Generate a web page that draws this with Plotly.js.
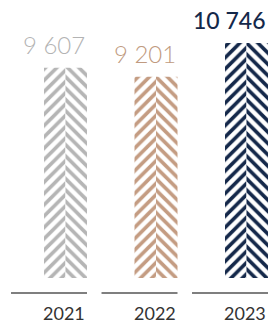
<!DOCTYPE html>
<html>
<head>
<meta charset="utf-8">
<script src="https://cdn.plot.ly/plotly-3.0.1.min.js"></script>
<style>html,body{margin:0;padding:0;background:#fff;}#chart{width:272px;height:323px;}</style>
</head>
<body>
<div id="chart"></div>
<script>
const years = ['2021', '2022', '2023'];
const values = [9607, 9201, 10746];
const valueLabels = ['9 607', '9 201', '10 746'];
const barColors = ['#b5b5b5', '#c49c82', '#14284a'];
const labelColors = ['#b3b3b3', '#c09a80', '#14284a'];
const labelWeights = [300, 300, 500];
const labelSizes = [24, 24, 23];

const idx = years.map((_, i) => i);
const halfW = 0.2376;

function half(shape, offset) {
  return {
    type: 'bar',
    x: idx,
    y: values,
    width: idx.map(() => halfW),
    offset: idx.map(() => offset),
    marker: {
      color: '#ffffff',
      line: {width: 0},
      pattern: {shape: shape, size: 8, solidity: 0.45, fgcolor: barColors, bgcolor: '#ffffff', fillmode: 'replace'}
    },
    hoverinfo: 'skip',
    showlegend: false
  };
}

const traces = [half('/', -halfW), half('\\', 0)];

const annotations = [];
const shapes = [];
idx.forEach(i => {
  annotations.push({
    x: i + halfW, y: values[i], xref: 'x', yref: 'y',
    xanchor: 'right', yanchor: 'bottom', yshift: 7,
    text: valueLabels[i], showarrow: false,
    font: {family: 'Lato', size: labelSizes[i], color: labelColors[i], weight: labelWeights[i]}
  });
  annotations.push({
    x: i + halfW, y: 0, xref: 'x', yref: 'paper',
    xanchor: 'right', yanchor: 'top', yshift: -22,
    text: years[i], showarrow: false,
    font: {family: 'Lato', size: 18, color: '#333333'}
  });
  shapes.push({
    type: 'line', xref: 'x', yref: 'paper',
    x0: i - 0.602, x1: i + halfW,
    ysizemode: 'pixel', yanchor: 0, y0: -15, y1: -15,
    line: {color: '#555555', width: 1.5}
  });
});

const layout = {
  width: 272, height: 323,
  margin: {l: 0, r: 0, t: 0, b: 45},
  paper_bgcolor: '#ffffff', plot_bgcolor: '#ffffff',
  barmode: 'overlay',
  xaxis: {range: [-0.7238, 2.2818], visible: false, fixedrange: true},
  yaxis: {range: [0, 12706], visible: false, fixedrange: true},
  annotations: annotations,
  shapes: shapes
};

Plotly.newPlot('chart', traces, layout, {displayModeBar: false, staticPlot: true});
</script>
</body>
</html>
